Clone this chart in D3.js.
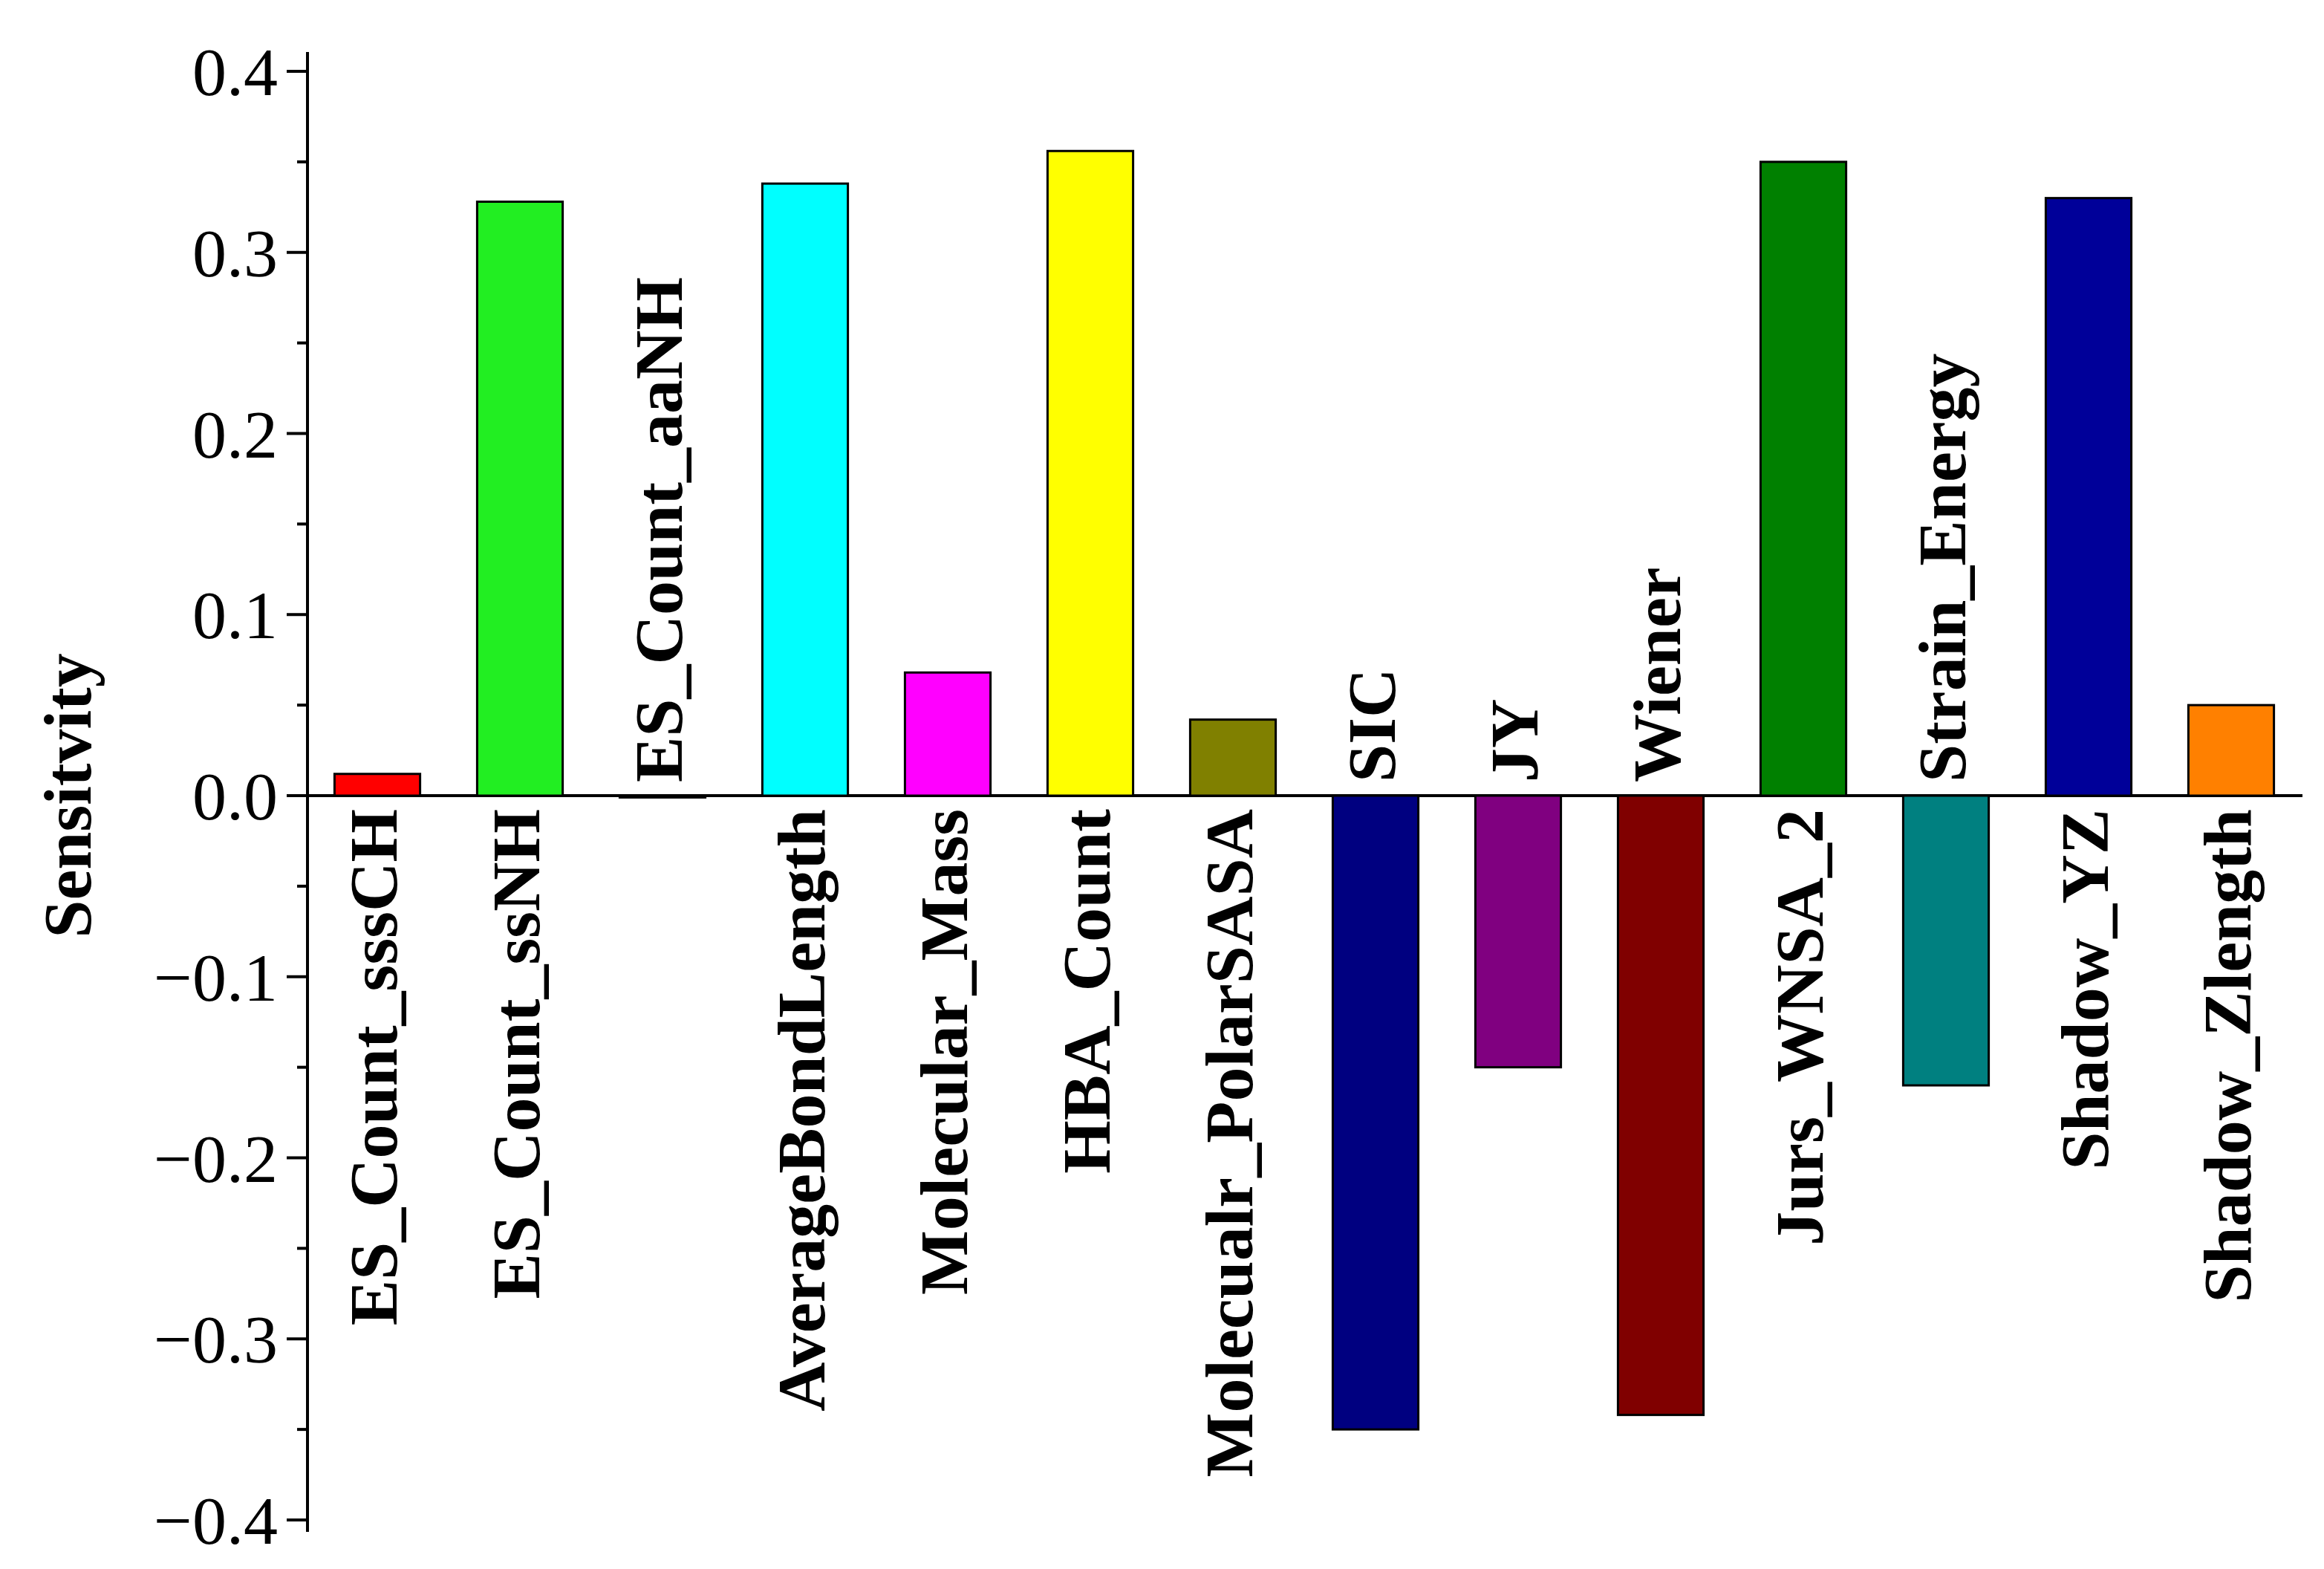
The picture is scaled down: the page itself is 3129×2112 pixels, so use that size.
<!DOCTYPE html>
<html><head><meta charset="utf-8">
<script src="https://cdn.jsdelivr.net/npm/d3@7"></script>
<style>body{margin:0;background:#fff}</style></head>
<body><svg id="c" width="3129" height="2112"></svg>
<script>
const categories=["ES_Count_sssCH","ES_Count_ssNH","ES_Count_aaNH","AverageBondLength","Molecular_Mass","HBA_Count","Molecualr_PolarSASA","SIC","JY","Wiener","Jurs_WNSA_2","Strain_Energy","Shadow_YZ","Shadow_Zlength"];
const values=[0.012,0.328,-0.001,0.338,0.068,0.356,0.042,-0.350,-0.150,-0.342,0.350,-0.160,0.330,0.050];
const colors=["#ff0000","#22ee22","#ffffff","#00ffff","#ff00ff","#ffff00","#808000","#000080","#800080","#800000","#008000","#008080","#000099","#ff8000"];
const yTicks=[-0.4,-0.3,-0.2,-0.1,0.0,0.1,0.2,0.3,0.4];
const yMinor=[-0.35,-0.25,-0.15,-0.05,0.05,0.15,0.25,0.35];

const svg=d3.select("#c");
const font="'Liberation Serif','Times New Roman',serif";
const y=d3.scaleLinear().domain([-0.4,0.4]).range([2046,96]);
const x=d3.scaleBand().domain(categories).range([412,3100]).paddingInner(0.4).paddingOuter(0.2);
const ax=414;

// axis line
svg.append("line").attr("x1",ax).attr("x2",ax).attr("y1",70).attr("y2",2062).attr("stroke","#000").attr("stroke-width",4);
svg.selectAll(".mt").data(yTicks).join("line").attr("x1",ax-28).attr("x2",ax).attr("y1",d=>y(d)).attr("y2",d=>y(d)).attr("stroke","#000").attr("stroke-width",4);
svg.selectAll(".nt").data(yMinor).join("line").attr("x1",ax-14).attr("x2",ax).attr("y1",d=>y(d)).attr("y2",d=>y(d)).attr("stroke","#000").attr("stroke-width",4);
svg.selectAll(".tl").data(yTicks).join("text").attr("x",ax-40).attr("y",d=>y(d)).attr("dy","0.35em")
 .attr("text-anchor","end").attr("font-family",font).attr("font-size",92)
 .text(d=>d3.format(".1f")(d).replace("-","\u2212"));
svg.append("text").attr("transform",`translate(90,${y(0)}) rotate(-90)`).attr("dy","0.35em").attr("text-anchor","middle")
 .attr("font-family",font).attr("font-weight","bold").attr("font-size",92).text("Sensitvity");

// zero line
svg.append("line").attr("x1",ax).attr("x2",3100).attr("y1",y(0)).attr("y2",y(0)).attr("stroke","#000").attr("stroke-width",4);

svg.selectAll(".bar").data(values).join("rect")
 .attr("x",(d,i)=>x(categories[i])).attr("width",x.bandwidth())
 .attr("y",d=>y(Math.max(0,d))).attr("height",d=>Math.abs(y(d)-y(0)))
 .attr("fill",(d,i)=>colors[i]).attr("stroke","#000").attr("stroke-width",3);

svg.selectAll(".lab").data(values).join("text")
 .attr("transform",(d,i)=>{const cx=x(categories[i])+x.bandwidth()/2-6;const yy=d>0?y(0)+18:y(0)-18;return `translate(${cx},${yy}) rotate(-90)`;})
 .attr("dy","0.35em").attr("text-anchor",d=>d>0?"end":"start")
 .attr("font-family",font).attr("font-weight","bold").attr("font-size",92)
 .text((d,i)=>categories[i]);
</script></body></html>
